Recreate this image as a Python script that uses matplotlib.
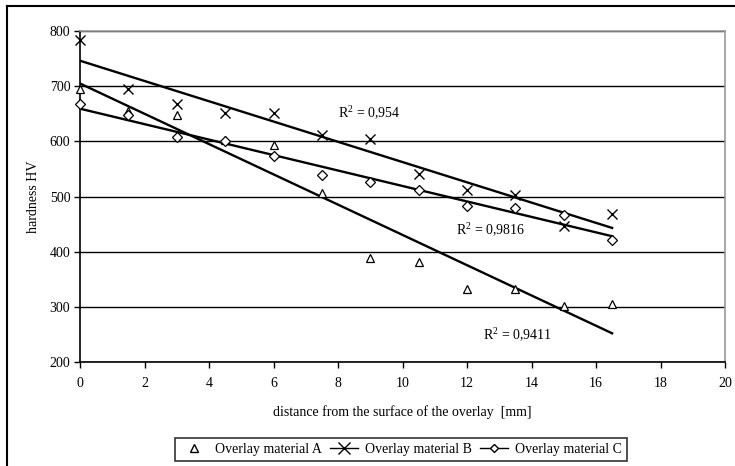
import matplotlib
matplotlib.use("Agg")
import matplotlib.pyplot as plt
from matplotlib.lines import Line2D
import numpy as np

plt.rcParams['font.family'] = ['Liberation Serif', 'DejaVu Serif']
plt.rcParams['mathtext.fontset'] = 'custom'
plt.rcParams['mathtext.rm'] = 'Liberation Serif'
plt.rcParams['mathtext.it'] = 'Liberation Serif:italic'

distance = [0, 1.5, 3, 4.5, 6, 7.5, 9, 10.5, 12, 13.5, 15, 16.5]
mat_a = [694, 655, 648, 603, 593, 507, 388, 382, 332, 332, 301, 306]
mat_b = [783, 695, 668, 652, 651, 611, 604, 540, 512, 503, 447, 469]
mat_c = [668, 647, 607, 600, 573, 539, 527, 512, 482, 480, 467, 421]
labels = ["Overlay material A", "Overlay material B", "Overlay material C"]
r2_texts = ["R$^{2}$ = 0,954", "R$^{2}$ = 0,9816", "R$^{2}$ = 0,9411"]
r2_pos = [(8.0, 651), (11.65, 439), (12.5, 249)]

fig = plt.figure(figsize=(7.35, 4.66), dpi=100)
ax = fig.add_axes([80/735, 1-362/466, 645/735, 331/466])

xs_all = np.array(distance)
series = []
for ys in (mat_a, mat_b, mat_c):
    series.append((xs_all, np.array(ys, dtype=float)))

ax.set_ylim(200, 800)
ax.set_xlim(0, 20)
ax.set_yticks(np.arange(200, 801, 100))
ax.set_xticks(np.arange(0, 21, 2))
ax.yaxis.grid(True, color='black', linewidth=1.0)
ax.set_axisbelow(True)

# linear trend lines
for xs, ys in series:
    k, b = np.polyfit(xs, ys, 1)
    xx = np.array([xs.min(), xs.max()])
    ax.plot(xx, k*xx + b, color='black', linewidth=1.7, zorder=3)

ms_kw = dict(linestyle='none', markerfacecolor='white', markeredgecolor='black', zorder=4, clip_on=False)
ax.plot(series[0][0], series[0][1], marker='^', markersize=5.5, markeredgewidth=0.9, **ms_kw)
ax.plot(series[1][0], series[1][1], marker='x', markersize=7.5, markeredgewidth=1.0, **ms_kw)
ax.plot(series[2][0], series[2][1], marker='D', markersize=5.5, markeredgewidth=0.9, **ms_kw)

for t, (x, y) in zip(r2_texts, r2_pos):
    ax.text(x, y, t, fontsize=10, va='center', ha='left', color='black', zorder=5)

for s in ('top', 'right'):
    ax.spines[s].set_color('#999999')
    ax.spines[s].set_linewidth(1.2)
for s in ('left', 'bottom'):
    ax.spines[s].set_color('black')
    ax.spines[s].set_linewidth(1.2)

ax.tick_params(axis='both', direction='out', length=4, width=1, labelsize=10, colors='black')
ax.tick_params(axis='y', pad=3)
ax.tick_params(axis='x', pad=7)
ax.set_ylabel("hardness HV", fontsize=10, labelpad=7)
ax.set_xlabel("distance from the surface of the overlay  [mm]", fontsize=10, labelpad=11)

handles = [
    Line2D([], [], linestyle='none', marker='^', markersize=5.5, markerfacecolor='white', markeredgecolor='black'),
    Line2D([], [], color='black', linewidth=1, marker='x', markersize=8, markerfacecolor='white', markeredgecolor='black'),
    Line2D([], [], color='black', linewidth=1, marker='D', markersize=4.5, markerfacecolor='white', markeredgecolor='black'),
]
leg = fig.legend(handles, labels, loc='center', bbox_to_anchor=(401/735, 1-449.5/466), ncol=3,
                 fontsize=10, frameon=True, fancybox=False, edgecolor='black', handlelength=2.0,
                 columnspacing=0.6, handletextpad=0.5, borderpad=0.35)
leg.get_frame().set_linewidth(1.2)

# outer frame (top and left)
fig.add_artist(Line2D([7/735, 1], [1-6/466, 1-6/466], color='black', linewidth=1.5, transform=fig.transFigure))
fig.add_artist(Line2D([7/735, 7/735], [0, 1-6/466], color='black', linewidth=1.5, transform=fig.transFigure))

fig.savefig("out.png", dpi=100)
